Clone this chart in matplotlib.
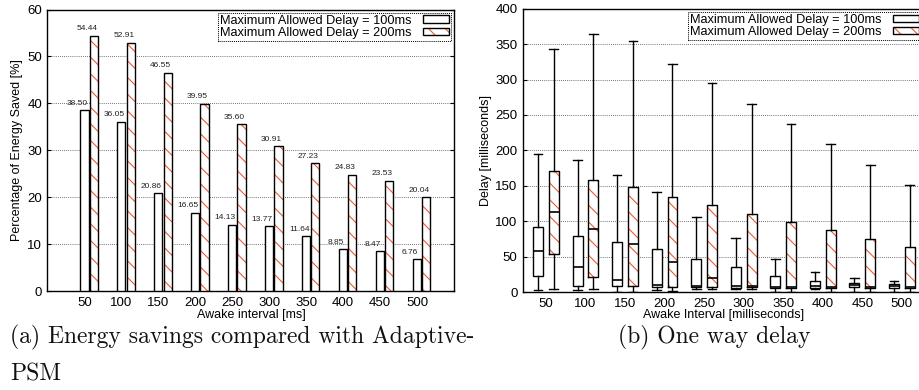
import matplotlib
matplotlib.use('Agg')
import matplotlib.pyplot as plt
from matplotlib.patches import Patch
import numpy as np

# ---------------- data ----------------
intervals = [50, 100, 150, 200, 250, 300, 350, 400, 450, 500]
energy_100 = [38.50, 36.05, 20.86, 16.65, 14.13, 13.77, 11.64, 8.85, 8.47, 6.76]
energy_200 = [54.44, 52.91, 46.55, 39.95, 35.60, 30.91, 27.23, 24.83, 23.53, 20.04]

# one-way delay box statistics (ms)
d100_lo = [3, 3, 1, 3, 4, 4, 1, 4, 1, 1]
d100_q1 = [23.5, 9, 8.5, 8, 7.5, 6.5, 6.5, 6, 7, 6]
d100_med = [58, 35, 18, 10.5, 9, 8.5, 8, 9, 10, 9]
d100_q3 = [92.5, 80, 71.5, 61.5, 47.5, 35, 22.5, 16.5, 12.5, 11]
d100_hi = [195.5, 186.5, 166, 142, 106, 76, 47, 28, 20.5, 16.5]

d200_lo = [4, 4, 0.5, 2, 4, 4, 1, 1, 1, 1]
d200_q1 = [54.5, 21, 9, 8, 7.5, 7, 6.5, 6.5, 6.5, 6.5]
d200_med = [113, 89.5, 68, 43, 20.5, 9, 8, 8, 7.5, 7.5]
d200_q3 = [170.5, 158, 148, 134, 122.5, 111, 99.5, 87.5, 75.5, 64]
d200_hi = [343.5, 364, 355, 321.5, 295, 266, 237, 209, 179, 151]

legend_labels = ['Maximum Allowed Delay = 100ms', 'Maximum Allowed Delay = 200ms']

# ---------------- style ----------------
plt.rcParams['font.family'] = ['Liberation Sans', 'DejaVu Sans']
plt.rcParams['hatch.linewidth'] = 0.8
HATCH_COL = '#ee5a36'
HATCH = '\\\\'

W, H = 920, 390
fig = plt.figure(figsize=(W / 100, H / 100), dpi=100)


def px_axes(l, t, r, b):
    return fig.add_axes([l / W, 1 - b / H, (r - l) / W, (b - t) / H])


ax1 = px_axes(47.5, 9.5, 454, 291)
ax2 = px_axes(523, 8.6, 924, 292.3)

x = np.array(intervals, float)

# ---------------- left: energy savings ----------------
bw = 11
ax1.bar(x, energy_100, width=bw, facecolor='white', edgecolor='black', linewidth=1, zorder=3)
ax1.bar(x + 12.5, energy_200, width=bw, facecolor='white', edgecolor=HATCH_COL,
        hatch=HATCH, linewidth=0, zorder=3)
ax1.bar(x + 12.5, energy_200, width=bw, fill=False, edgecolor='black', linewidth=1, zorder=4)
for xi, v in zip(x, energy_100):
    ax1.annotate(f'{v:.2f}', (xi, v), xytext=(-5, 2.5), textcoords='offset points',
                 ha='center', va='bottom', fontsize=6, color='#222222')
for xi, v in zip(x + 12.5, energy_200):
    ax1.annotate(f'{v:.2f}', (xi, v), xytext=(-5, 2.5), textcoords='offset points',
                 ha='center', va='bottom', fontsize=6, color='#222222')
ax1.set_xlim(0, 550)
ax1.set_ylim(0, 60)
ax1.set_xticks(intervals)
ax1.set_yticks(range(0, 61, 10))

# ---------------- right: delay boxes ----------------
def stats(lo, q1, med, q3, hi):
    return [dict(whislo=a, q1=b, med=c, q3=d, whishi=e, fliers=[])
            for a, b, c, d, e in zip(lo, q1, med, q3, hi)]


s100 = stats(d100_lo, d100_q1, d100_med, d100_q3, d100_hi)
s200 = stats(d200_lo, d200_q1, d200_med, d200_q3, d200_hi)
blk = dict(color='black', linewidth=1)
ax2.bxp(s100, positions=x - 10, widths=12.5, capwidths=11, showfliers=False,
        patch_artist=True, manage_ticks=False,
        boxprops=dict(facecolor='white', edgecolor='black', linewidth=1),
        medianprops=dict(color='black', linewidth=1.2), whiskerprops=blk, capprops=blk,
        zorder=3)
ax2.bxp(s200, positions=x + 10, widths=12.5, showfliers=False, showcaps=False,
        patch_artist=True, manage_ticks=False,
        boxprops=dict(facecolor='white', edgecolor=HATCH_COL, hatch=HATCH, linewidth=0),
        medianprops=dict(linewidth=0), whiskerprops=dict(linewidth=0), zorder=3)
ax2.bxp(s200, positions=x + 10, widths=12.5, capwidths=11, showfliers=False,
        patch_artist=False, manage_ticks=False,
        boxprops=blk, medianprops=dict(color='black', linewidth=1.2),
        whiskerprops=blk, capprops=blk, zorder=4)
ax2.set_xlim(21, 528)
ax2.set_ylim(0, 400)
ax2.set_xticks(intervals)
ax2.set_yticks(range(0, 401, 50))

# ---------------- common axes styling ----------------
for ax in (ax1, ax2):
    ax.set_axisbelow(True)
    ax.yaxis.grid(True, linestyle=(0, (1, 1.5)), color='#444444', linewidth=0.6)
    for sp in ax.spines.values():
        sp.set_linewidth(1)
    ax.tick_params(axis='x', length=0, labelsize=9.5, pad=4)
    ax.tick_params(axis='y', direction='in', length=3, right=True, labelsize=9.5, pad=4)
    h100 = Patch(facecolor='white', edgecolor='black', linewidth=1)
    h200a = Patch(facecolor='white', edgecolor=HATCH_COL, hatch=HATCH, linewidth=0)
    h200b = Patch(fill=False, edgecolor='black', linewidth=1)
    leg = ax.legend([h100, (h200a, h200b)], legend_labels, loc='upper right',
                    markerfirst=False, fontsize=9.2, frameon=True, fancybox=False,
                    edgecolor='black', framealpha=1, handlelength=2.0, handleheight=0.5,
                    borderpad=0.15, labelspacing=0.05, handletextpad=0.9,
                    borderaxespad=0.25)
    leg.get_frame().set_linestyle((0, (1, 1)))
    leg.get_frame().set_linewidth(0.7)
    leg.set_zorder(10)

# axis labels
fig.text(17, H - 150, 'Percentage of Energy Saved [%]', transform=None,
         rotation=90, ha='center', va='center', fontsize=9)
fig.text(486, H - 150, 'Delay [milliseconds]', transform=None,
         rotation=90, ha='center', va='center', fontsize=9)
fig.text(251, H - 315, 'Awake interval [ms]', transform=None,
         ha='center', va='center', fontsize=9)
fig.text(723.5, H - 315, 'Awake Interval [milliseconds]', transform=None,
         ha='center', va='center', fontsize=9)

# captions
cap = dict(family=['cmr10', 'DejaVu Serif'], fontsize=17, color='#111111', transform=None)
fig.text(10, H - 337, '(a) Energy savings compared with Adaptive-', ha='left', va='center', **cap)
fig.text(10, H - 374, 'PSM', ha='left', va='center', **cap)
fig.text(714.5, H - 337, '(b) One way delay', ha='center', va='center', **cap)

fig.savefig('out.png', dpi=100)
